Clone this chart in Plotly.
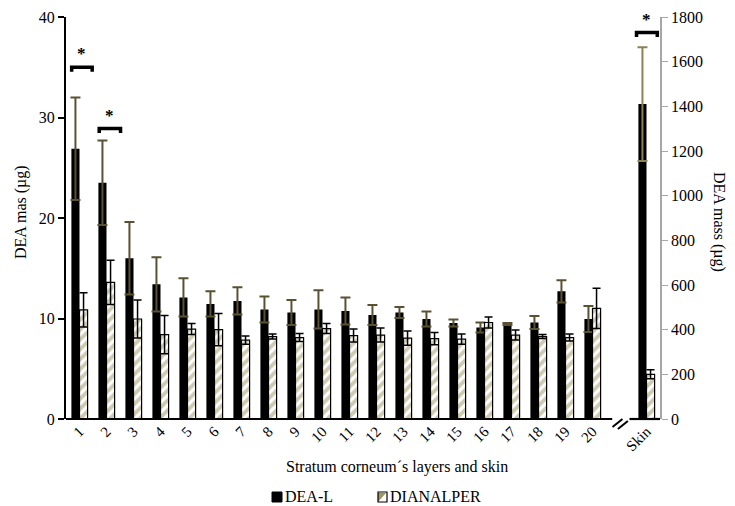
import plotly.graph_objects as go

# ---------------- data ----------------
layers = [str(i) for i in range(1, 21)]
skin_label = "Skin"

dea_l = [26.9, 23.5, 16.0, 13.4, 12.1, 11.45, 11.75, 10.9, 10.6, 10.9,
         10.75, 10.35, 10.6, 9.95, 9.55, 9.1, 9.45, 9.6, 12.7, 9.95]
dea_l_err = [5.1, 4.2, 3.6, 2.7, 1.9, 1.25, 1.35, 1.3, 1.25, 1.9,
             1.35, 1.0, 0.55, 0.75, 0.35, 0.5, 0.1, 0.65, 1.1, 1.3]
dianalper = [10.85, 13.6, 9.95, 8.4, 8.95, 8.9, 7.85, 8.2, 8.1, 9.0,
             8.3, 8.35, 8.05, 8.0, 7.95, 9.6, 8.35, 8.2, 8.1, 11.0]
dianalper_err = [1.7, 2.2, 1.9, 1.9, 0.55, 1.6, 0.4, 0.25, 0.4, 0.5,
                 0.65, 0.7, 0.7, 0.6, 0.5, 0.55, 0.5, 0.2, 0.35, 2.0]

skin_dea_l = [1410]
skin_dea_l_err = [255]
skin_dianalper = [200]
skin_dianalper_err = [20]

left_ticks = [0, 10, 20, 30, 40]
right_ticks = list(range(0, 1801, 200))

# ---------------- layout helpers ----------------
W, H = 735, 506
ML, MR, MT, MB = 66, 75, 17, 87
PW, PH = W - ML - MR, H - MT - MB

def px(x):
    return (x - ML) / PW

def py(y):
    return (H - MB - y) / PH

layer_pos = list(range(1, len(layers) + 1))
skin_pos = [len(layers) + 2]
break_pos = len(layers) + 1
xr = [0.5, skin_pos[0] + 0.5]

def xpaper(p):
    return (p - xr[0]) / (xr[1] - xr[0])

FONT = "Liberation Serif"
HATCH = "#9f9562"
ERRC = "#5a5132"
BW = 0.3
PATTERN = dict(shape="/", fgcolor=HATCH, bgcolor="white", size=7, solidity=0.55)

fig = go.Figure()

fig.add_trace(go.Bar(
    x=layer_pos, y=dea_l, name="DEA-L", width=BW, offset=-BW,
    marker=dict(color="black", line=dict(color="black", width=0)),
    error_y=dict(type="data", array=dea_l_err, color=ERRC, thickness=2, width=5),
    showlegend=False))
fig.add_trace(go.Bar(
    x=layer_pos, y=dianalper, name="DIANALPER", width=BW, offset=0,
    marker=dict(color="white", line=dict(color="black", width=1.2), pattern=PATTERN),
    error_y=dict(type="data", array=dianalper_err, color="black", thickness=1.5, width=4),
    showlegend=False))
fig.add_trace(go.Bar(
    x=skin_pos, y=skin_dea_l, name="DEA-L", width=BW, offset=-BW, yaxis="y2",
    marker=dict(color="black", line=dict(color="black", width=0)),
    error_y=dict(type="data", array=skin_dea_l_err, color="#8c8254", thickness=2, width=5),
    showlegend=False))
fig.add_trace(go.Bar(
    x=skin_pos, y=skin_dianalper, name="DIANALPER", width=BW, offset=0, yaxis="y2",
    marker=dict(color="white", line=dict(color="black", width=1.2), pattern=PATTERN),
    error_y=dict(type="data", array=skin_dianalper_err, color="black", thickness=1.5, width=4),
    showlegend=False))

shapes = []
annotations = []

# x axis line with break
shapes.append(dict(type="line", xref="paper", yref="paper",
                   x0=0, x1=xpaper(break_pos - 0.27), y0=0, y1=0,
                   line=dict(color="black", width=2.2)))
shapes.append(dict(type="line", xref="paper", yref="paper",
                   x0=xpaper(break_pos + 0.37), x1=1, y0=0, y1=0,
                   line=dict(color="black", width=2.2)))
for dx in (0.0, 0.2):
    shapes.append(dict(type="line", xref="paper", yref="paper",
                       x0=xpaper(break_pos - 0.26 + dx), y0=py(427 + dx * 10),
                       x1=xpaper(break_pos + 0.11 + dx), y1=py(419 + dx * 10),
                       line=dict(color="black", width=2)))

# significance brackets
brackets = [(0.71, 1.47, 35.0), (1.73, 2.52, 28.9), (21.63, 22.4, 38.45)]
for x0, x1, yb in brackets:
    shapes.append(dict(type="path", xref="x", yref="y",
                       path=f"M {x0},{yb-0.45} L {x0},{yb} L {x1},{yb} L {x1},{yb-0.45}",
                       line=dict(color="black", width=3.5)))
    annotations.append(dict(x=(x0 + x1) / 2, y=yb + 0.2, xref="x", yref="y",
                            text="<b>*</b>", showarrow=False, yanchor="bottom",
                            xanchor="center",
                            font=dict(family=FONT, size=17, color="black")))

# axis titles
annotations.append(dict(x=px(397), y=py(467), xref="paper", yref="paper",
                        text="Stratum corneum´s layers and skin", showarrow=False,
                        xanchor="center", yanchor="middle",
                        font=dict(family=FONT, size=16, color="black")))
annotations.append(dict(x=px(21), y=py(212), xref="paper", yref="paper",
                        text="DEA mas (µg)", showarrow=False, textangle=-90,
                        xanchor="center", yanchor="middle",
                        font=dict(family=FONT, size=16, color="black")))
annotations.append(dict(x=px(719), y=py(222), xref="paper", yref="paper",
                        text="DEA mass (µg)", showarrow=False, textangle=90,
                        xanchor="center", yanchor="middle",
                        font=dict(family=FONT, size=16, color="black")))

# legend (manual)
shapes.append(dict(type="rect", xref="paper", yref="paper",
                   x0=px(272), x1=px(282), y0=py(502), y1=py(492),
                   fillcolor="black", line=dict(color="black", width=1)))
annotations.append(dict(x=px(283), y=py(497), xref="paper", yref="paper",
                        text="DEA-L", showarrow=False, xanchor="left", yanchor="middle",
                        font=dict(family=FONT, size=16, color="black")))
shapes.append(dict(type="path", xref="paper", yref="paper",
                   path=f"M {px(378)},{py(502)} L {px(378)},{py(493)} L {px(386)},{py(493)} Z",
                   fillcolor=HATCH, line=dict(width=0)))
shapes.append(dict(type="rect", xref="paper", yref="paper",
                   x0=px(378), x1=px(387), y0=py(502), y1=py(492),
                   fillcolor="rgba(0,0,0,0)", line=dict(color="black", width=1.2)))
annotations.append(dict(x=px(388), y=py(497), xref="paper", yref="paper",
                        text="DIANALPER", showarrow=False, xanchor="left", yanchor="middle",
                        font=dict(family=FONT, size=16, color="black")))

fig.update_layout(
    width=W, height=H,
    margin=dict(l=ML, r=MR, t=MT, b=MB, autoexpand=False),
    paper_bgcolor="white", plot_bgcolor="white",
    barmode="overlay",
    showlegend=False,
    hovermode=False,
    font=dict(family=FONT, size=16, color="black"),
    xaxis=dict(range=xr, tickmode="array", tickvals=layer_pos + skin_pos,
               ticktext=layers + [skin_label], tickangle=-45,
               showline=False, ticks="", showgrid=False, zeroline=False,
               tickfont=dict(family=FONT, size=15, color="black")),
    yaxis=dict(range=[0, 40], tickvals=left_ticks, showline=True, linecolor="black",
               linewidth=2, ticks="outside", ticklen=6, tickcolor="black", tickwidth=1.5,
               showgrid=False, zeroline=False,
               tickfont=dict(family=FONT, size=16, color="black")),
    yaxis2=dict(range=[0, 1800], tickvals=right_ticks, overlaying="y", side="right",
                showline=True, linecolor="#a6a6a6", linewidth=1.5, ticks="outside",
                ticklen=6, tickcolor="#a6a6a6", showgrid=False, zeroline=False,
                tickfont=dict(family=FONT, size=16, color="black")),
    shapes=shapes, annotations=annotations,
)

fig.write_html("out.html", config={"displayModeBar": False},
               post_script="document.body.style.margin='0px';document.body.style.overflow='hidden';")
